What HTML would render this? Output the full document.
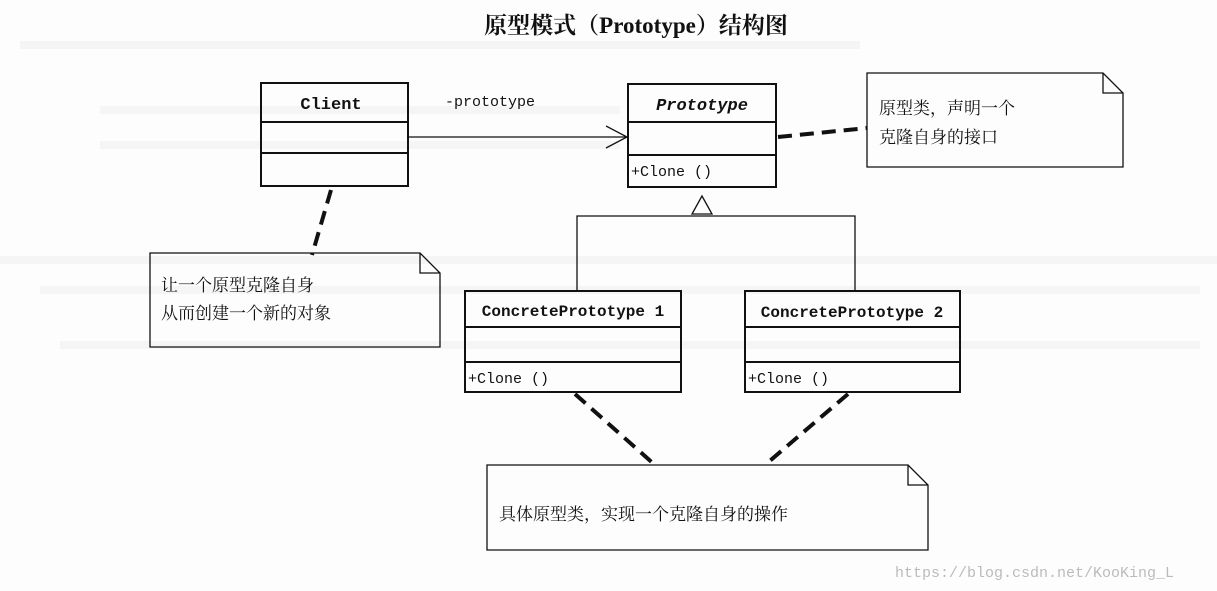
<!DOCTYPE html>
<html><head><meta charset="utf-8"><style>
html,body{margin:0;padding:0;background:#fff}
svg{display:block}
text{font-family:"Liberation Mono","Noto Serif CJK SC",monospace;fill:#111}
.c{font-family:"Liberation Serif","Noto Serif CJK SC",serif}
</style></head><body>
<svg width="1217" height="591" viewBox="0 0 1217 591" xmlns="http://www.w3.org/2000/svg">
<rect width="1217" height="591" fill="#fdfdfd"/>
<g stroke="#f0f0f0" stroke-width="8" opacity="0.6">
<line x1="20" y1="45" x2="860" y2="45"/>
<line x1="100" y1="110" x2="620" y2="110"/>
<line x1="100" y1="145" x2="620" y2="145"/>
<line x1="0" y1="260" x2="1217" y2="260"/>
<line x1="40" y1="290" x2="1200" y2="290"/>
<line x1="60" y1="345" x2="1200" y2="345"/>
</g>
<text x="636" y="33" text-anchor="middle" font-size="23" font-weight="bold" class="c">原型模式（Prototype）结构图</text>
<g fill="none" stroke="#111" stroke-width="2">
<rect x="261" y="83" width="147" height="103"/>
<line x1="261" y1="122" x2="408" y2="122"/>
<line x1="261" y1="153" x2="408" y2="153"/>
<rect x="628" y="84" width="148" height="103"/>
<line x1="628" y1="122" x2="776" y2="122"/>
<line x1="628" y1="155" x2="776" y2="155"/>
<rect x="465" y="291" width="216" height="101"/>
<line x1="465" y1="327" x2="681" y2="327"/>
<line x1="465" y1="362" x2="681" y2="362"/>
<rect x="745" y="291" width="215" height="101"/>
<line x1="745" y1="327" x2="960" y2="327"/>
<line x1="745" y1="362" x2="960" y2="362"/>
</g>
<g fill="none" stroke="#111" stroke-width="1.3">
<line x1="408" y1="137" x2="627" y2="137"/>
<polyline points="606,126 627,137 606,148"/>
<polygon points="702,196 692,214 712,214" fill="#fff"/>
<polyline points="577,291 577,216 855,216 855,291"/>
<path d="M867 73 H1103 L1123 93 V167 H867 Z M1103 73 V93 H1123"/>
<path d="M150 253 H420 L440 273 V347 H150 Z M420 253 V273 H440"/>
<path d="M487 465 H908 L928 485 V550 H487 Z M908 465 V485 H928"/>
</g>
<g stroke="#111" stroke-width="4" stroke-dasharray="14,8" fill="none">
<line x1="778" y1="137" x2="867" y2="128"/>
<line x1="331" y1="190" x2="312" y2="255"/>
<line x1="575" y1="394" x2="655" y2="465"/>
<line x1="848" y1="394" x2="765" y2="465"/>
</g>
<text x="331" y="109" text-anchor="middle" font-size="17" font-weight="bold">Client</text>
<text x="702" y="110" text-anchor="middle" font-size="17" font-weight="bold" font-style="italic">Prototype</text>
<text x="631" y="176" font-size="15">+Clone ()</text>
<text x="445" y="106" font-size="15">-prototype</text>
<text x="573" y="316" text-anchor="middle" font-size="16" font-weight="bold">ConcretePrototype 1</text>
<text x="852" y="317" text-anchor="middle" font-size="16" font-weight="bold">ConcretePrototype 2</text>
<text x="468" y="383" font-size="15">+Clone ()</text>
<text x="748" y="383" font-size="15">+Clone ()</text>
<text x="879" y="114" font-size="17" class="c">原型类，声明一个</text>
<text x="879" y="143" font-size="17" class="c">克隆自身的接口</text>
<text x="161" y="291" font-size="17" class="c">让一个原型克隆自身</text>
<text x="161" y="319" font-size="17" class="c">从而创建一个新的对象</text>
<text x="499" y="520" font-size="17" class="c">具体原型类，实现一个克隆自身的操作</text>
<text x="895" y="577" font-size="15" style="fill:#bbb">https://blog.csdn.net/KooKing_L</text>
</svg>
</body></html>
